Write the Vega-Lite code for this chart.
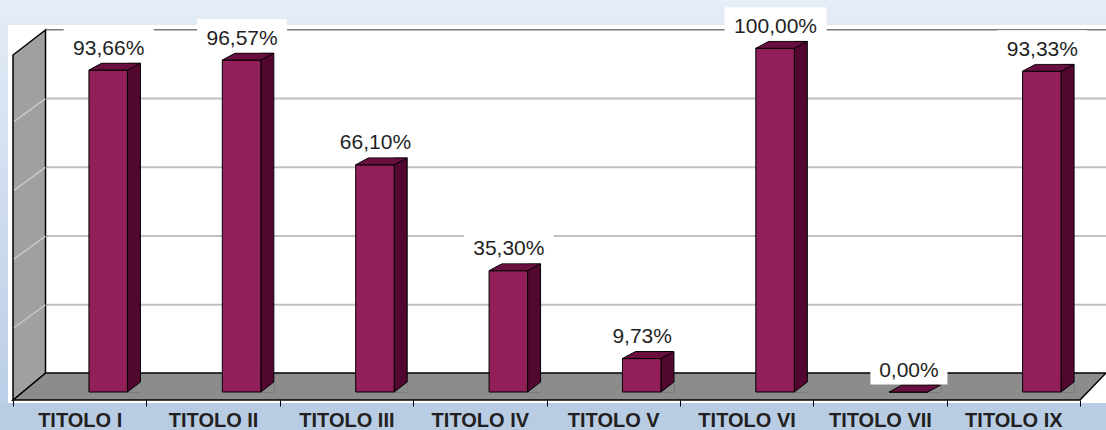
{
  "$schema": "https://vega.github.io/schema/vega-lite/v6.json",
  "width": 1098,
  "height": 378,
  "padding": {"left": 8, "top": 25, "right": 0, "bottom": 27},
  "autosize": {"type": "none"},
  "background": "#b8cce4",
  "config": {
    "view": {"stroke": null, "fill": "#ffffff"},
    "locale": {"number": {"decimal": ",", "thousands": ".", "grouping": [3], "currency": ["", " €"]}},
    "axisX": {"domain": false, "grid": false, "ticks": true, "tickBand": "extent", "tickSize": 6, "tickColor": "#000000", "tickWidth": 1, "offset": -3,
      "labelAngle": 0, "labelFont": "Liberation Sans", "labelFontSize": 20, "labelFontWeight": "bold", "labelColor": "#231f20", "labelBaseline": "alphabetic", "labelPadding": 20, "labelOverlap": false}
  },
  "datasets": {
    "titoli": [
      {"titolo": "TITOLO I", "quota": 0.9366},
      {"titolo": "TITOLO II", "quota": 0.9657},
      {"titolo": "TITOLO III", "quota": 0.6610},
      {"titolo": "TITOLO IV", "quota": 0.3530},
      {"titolo": "TITOLO V", "quota": 0.0973},
      {"titolo": "TITOLO VI", "quota": 1.0},
      {"titolo": "TITOLO VII", "quota": 0.0},
      {"titolo": "TITOLO IX", "quota": 0.9333}
    ],
    "ticks": [{"t": 0.2}, {"t": 0.4}, {"t": 0.6}, {"t": 0.8}],
    "one": [{"k": 1}]
  },
  "layer": [
    {
      "data": {"name": "one"},
      "mark": {"type": "point", "shape": "M-13,-392L1093,-392L1093,-367L-5,-367L-5,11L-13,11Z", "size": 4, "filled": true, "opacity": 1, "strokeWidth": 0,
        "fill": {"gradient": "linear", "x1": 0, "y1": 0, "x2": 0, "y2": 1, "stops": [{"offset": 0, "color": "#e7eef8"}, {"offset": 0.07, "color": "#e1e9f5"}, {"offset": 1, "color": "#bbcee7"}]}},
      "encoding": {
        "x": {"datum": "TITOLO I", "type": "nominal", "bandPosition": 0, "title": null, "scale": {"domain": ["TITOLO I","TITOLO II","TITOLO III","TITOLO IV","TITOLO V","TITOLO VI","TITOLO VII","TITOLO IX"], "range": [5, 1072], "paddingInner": 0, "paddingOuter": 0}},
        "y": {"datum": 0, "type": "quantitative", "axis": null, "scale": {"domain": [0, 1], "range": [367, 23.3], "nice": false, "zero": false}}
      }
    },
    {
      "data": {"name": "one"},
      "mark": {"type": "point", "shape": "M0,8L32.5,-19L1093,-19L1067,8Z", "size": 4, "filled": true, "opacity": 1, "fill": "#8c8c8c", "stroke": "#000000", "strokeWidth": 1.5},
      "encoding": {
        "x": {"datum": "TITOLO I", "type": "nominal", "bandPosition": 0, "title": null, "scale": {"domain": ["TITOLO I","TITOLO II","TITOLO III","TITOLO IV","TITOLO V","TITOLO VI","TITOLO VII","TITOLO IX"], "range": [5, 1072], "paddingInner": 0, "paddingOuter": 0}},
        "y": {"datum": 0, "type": "quantitative", "axis": null, "scale": {"domain": [0, 1], "range": [367, 23.3], "nice": false, "zero": false}}
      }
    },
    {
      "data": {"name": "ticks"},
      "mark": {"type": "point", "shape": "M32.5,0L1100,0", "size": 4, "filled": false, "opacity": 1, "stroke": "#c0c0c0", "strokeWidth": 2, "yOffset": -18.5},
      "encoding": {
        "x": {"datum": "TITOLO I", "type": "nominal", "bandPosition": 0, "title": null, "scale": {"domain": ["TITOLO I","TITOLO II","TITOLO III","TITOLO IV","TITOLO V","TITOLO VI","TITOLO VII","TITOLO IX"], "range": [5, 1072], "paddingInner": 0, "paddingOuter": 0}},
        "y": {"field": "t", "type": "quantitative", "axis": null, "scale": {"domain": [0, 1], "range": [367, 23.3], "nice": false, "zero": false}}
      }
    },
    {
      "data": {"name": "one"},
      "mark": {"type": "point", "shape": "M32.5,0L1100,0", "size": 4, "filled": false, "opacity": 1, "stroke": "#7a7a7a", "strokeWidth": 1.5, "yOffset": -18.5},
      "encoding": {
        "x": {"datum": "TITOLO I", "type": "nominal", "bandPosition": 0, "title": null, "scale": {"domain": ["TITOLO I","TITOLO II","TITOLO III","TITOLO IV","TITOLO V","TITOLO VI","TITOLO VII","TITOLO IX"], "range": [5, 1072], "paddingInner": 0, "paddingOuter": 0}},
        "y": {"datum": 1, "type": "quantitative", "axis": null, "scale": {"domain": [0, 1], "range": [367, 23.3], "nice": false, "zero": false}}
      }
    },
    {
      "data": {"name": "one"},
      "mark": {"type": "point", "shape": "M0,8L32.5,-19L32.5,-362L0,-337Z", "size": 4, "filled": true, "opacity": 1, "fill": "#a0a0a0", "stroke": "#000000", "strokeWidth": 1.5},
      "encoding": {
        "x": {"datum": "TITOLO I", "type": "nominal", "bandPosition": 0, "title": null, "scale": {"domain": ["TITOLO I","TITOLO II","TITOLO III","TITOLO IV","TITOLO V","TITOLO VI","TITOLO VII","TITOLO IX"], "range": [5, 1072], "paddingInner": 0, "paddingOuter": 0}},
        "y": {"datum": 0, "type": "quantitative", "axis": null, "scale": {"domain": [0, 1], "range": [367, 23.3], "nice": false, "zero": false}}
      }
    },
    {
      "data": {"name": "ticks"},
      "mark": {"type": "point", "shape": "M1,23L32.5,0", "size": 4, "filled": false, "opacity": 1, "stroke": "#c8c8c8", "strokeWidth": 1.5, "yOffset": -18.5},
      "encoding": {
        "x": {"datum": "TITOLO I", "type": "nominal", "bandPosition": 0, "title": null, "scale": {"domain": ["TITOLO I","TITOLO II","TITOLO III","TITOLO IV","TITOLO V","TITOLO VI","TITOLO VII","TITOLO IX"], "range": [5, 1072], "paddingInner": 0, "paddingOuter": 0}},
        "y": {"field": "t", "type": "quantitative", "axis": null, "scale": {"domain": [0, 1], "range": [367, 23.3], "nice": false, "zero": false}}
      }
    },
    {
      "data": {"name": "titoli"},
      "mark": {"type": "bar", "width": 13, "xOffset": 54.25, "yOffset": -7, "fill": "#51072f", "stroke": "#000000", "strokeWidth": 1},
      "encoding": {
        "x": {"field": "titolo", "type": "nominal", "title": null, "scale": {"domain": ["TITOLO I","TITOLO II","TITOLO III","TITOLO IV","TITOLO V","TITOLO VI","TITOLO VII","TITOLO IX"], "range": [5, 1072], "paddingInner": 0, "paddingOuter": 0}},
        "y": {"field": "quota", "type": "quantitative", "axis": null, "scale": {"domain": [0, 1], "range": [367, 23.3], "nice": false, "zero": false}},
        "y2": {"datum": 0}
      }
    },
    {
      "data": {"name": "titoli"},
      "mark": {"type": "point", "shape": "M19.25,0L32.25,-10L33,-10L33,0.8L19.25,0.8Z", "size": 4, "filled": true, "opacity": 1, "fill": "#8c8c8c", "strokeWidth": 0, "xOffset": 28.5},
      "encoding": {
        "x": {"field": "titolo", "type": "nominal", "title": null, "scale": {"domain": ["TITOLO I","TITOLO II","TITOLO III","TITOLO IV","TITOLO V","TITOLO VI","TITOLO VII","TITOLO IX"], "range": [5, 1072], "paddingInner": 0, "paddingOuter": 0}},
        "y": {"datum": 0, "type": "quantitative", "axis": null, "scale": {"domain": [0, 1], "range": [367, 23.3], "nice": false, "zero": false}}
      }
    },
    {
      "data": {"name": "titoli"},
      "mark": {"type": "point", "shape": "M19.25,0L32.25,-10", "size": 4, "filled": false, "opacity": 1, "stroke": "#000000", "strokeWidth": 1, "xOffset": 28.5},
      "encoding": {
        "x": {"field": "titolo", "type": "nominal", "title": null, "scale": {"domain": ["TITOLO I","TITOLO II","TITOLO III","TITOLO IV","TITOLO V","TITOLO VI","TITOLO VII","TITOLO IX"], "range": [5, 1072], "paddingInner": 0, "paddingOuter": 0}},
        "y": {"datum": 0, "type": "quantitative", "axis": null, "scale": {"domain": [0, 1], "range": [367, 23.3], "nice": false, "zero": false}}
      }
    },
    {
      "data": {"name": "titoli"},
      "mark": {"type": "bar", "width": 38.5, "xOffset": 28.5, "fill": "#921e5a", "stroke": "#000000", "strokeWidth": 1},
      "encoding": {
        "x": {"field": "titolo", "type": "nominal", "title": null, "scale": {"domain": ["TITOLO I","TITOLO II","TITOLO III","TITOLO IV","TITOLO V","TITOLO VI","TITOLO VII","TITOLO IX"], "range": [5, 1072], "paddingInner": 0, "paddingOuter": 0}},
        "y": {"field": "quota", "type": "quantitative", "axis": null, "scale": {"domain": [0, 1], "range": [367, 23.3], "nice": false, "zero": false}},
        "y2": {"datum": 0}
      }
    },
    {
      "data": {"name": "titoli"},
      "mark": {"type": "point", "shape": "M-19.25,0L19.25,0L32.25,-7L-6.25,-7Z", "size": 4, "filled": true, "opacity": 1, "fill": "#6a1041", "stroke": "#000000", "strokeWidth": 1, "xOffset": 28.5},
      "encoding": {
        "x": {"field": "titolo", "type": "nominal", "title": null, "scale": {"domain": ["TITOLO I","TITOLO II","TITOLO III","TITOLO IV","TITOLO V","TITOLO VI","TITOLO VII","TITOLO IX"], "range": [5, 1072], "paddingInner": 0, "paddingOuter": 0}},
        "y": {"field": "quota", "type": "quantitative", "axis": null, "scale": {"domain": [0, 1], "range": [367, 23.3], "nice": false, "zero": false}}
      }
    },
    {
      "data": {"name": "titoli"},
      "transform": [{"filter": "datum.quota >= 1"}],
      "mark": {"type": "point", "shape": "M-51,-41L51,-41L51,-7.5L-51,-7.5Z", "size": 4, "filled": true, "opacity": 1, "fill": "#ffffff", "strokeWidth": 0, "xOffset": 29},
      "encoding": {
        "x": {"field": "titolo", "type": "nominal", "title": null, "scale": {"domain": ["TITOLO I","TITOLO II","TITOLO III","TITOLO IV","TITOLO V","TITOLO VI","TITOLO VII","TITOLO IX"], "range": [5, 1072], "paddingInner": 0, "paddingOuter": 0}},
        "y": {"field": "quota", "type": "quantitative", "axis": null, "scale": {"domain": [0, 1], "range": [367, 23.3], "nice": false, "zero": false}}
      }
    },
    {
      "data": {"name": "titoli"},
      "transform": [{"filter": "datum.quota < 1 && datum.quota >= 0.1"}],
      "mark": {"type": "point", "shape": "M-45,-41L45,-41L45,-7.5L-45,-7.5Z", "size": 4, "filled": true, "opacity": 1, "fill": "#ffffff", "strokeWidth": 0, "xOffset": 29},
      "encoding": {
        "x": {"field": "titolo", "type": "nominal", "title": null, "scale": {"domain": ["TITOLO I","TITOLO II","TITOLO III","TITOLO IV","TITOLO V","TITOLO VI","TITOLO VII","TITOLO IX"], "range": [5, 1072], "paddingInner": 0, "paddingOuter": 0}},
        "y": {"field": "quota", "type": "quantitative", "axis": null, "scale": {"domain": [0, 1], "range": [367, 23.3], "nice": false, "zero": false}}
      }
    },
    {
      "data": {"name": "titoli"},
      "transform": [{"filter": "datum.quota < 0.1"}],
      "mark": {"type": "point", "shape": "M-38.5,-41L38.5,-41L38.5,-7.5L-38.5,-7.5Z", "size": 4, "filled": true, "opacity": 1, "fill": "#ffffff", "strokeWidth": 0, "xOffset": 29},
      "encoding": {
        "x": {"field": "titolo", "type": "nominal", "title": null, "scale": {"domain": ["TITOLO I","TITOLO II","TITOLO III","TITOLO IV","TITOLO V","TITOLO VI","TITOLO VII","TITOLO IX"], "range": [5, 1072], "paddingInner": 0, "paddingOuter": 0}},
        "y": {"field": "quota", "type": "quantitative", "axis": null, "scale": {"domain": [0, 1], "range": [367, 23.3], "nice": false, "zero": false}}
      }
    },
    {
      "data": {"name": "titoli"},
      "mark": {"type": "text", "font": "Liberation Sans", "fontSize": 21, "color": "#1f1f1f", "align": "center", "baseline": "alphabetic", "dx": 29, "dy": -15.5},
      "encoding": {
        "x": {"field": "titolo", "type": "nominal", "title": null, "scale": {"domain": ["TITOLO I","TITOLO II","TITOLO III","TITOLO IV","TITOLO V","TITOLO VI","TITOLO VII","TITOLO IX"], "range": [5, 1072], "paddingInner": 0, "paddingOuter": 0}},
        "y": {"field": "quota", "type": "quantitative", "axis": null, "scale": {"domain": [0, 1], "range": [367, 23.3], "nice": false, "zero": false}},
        "text": {"field": "quota", "type": "quantitative", "format": ".2%"}
      }
    }
  ]
}
